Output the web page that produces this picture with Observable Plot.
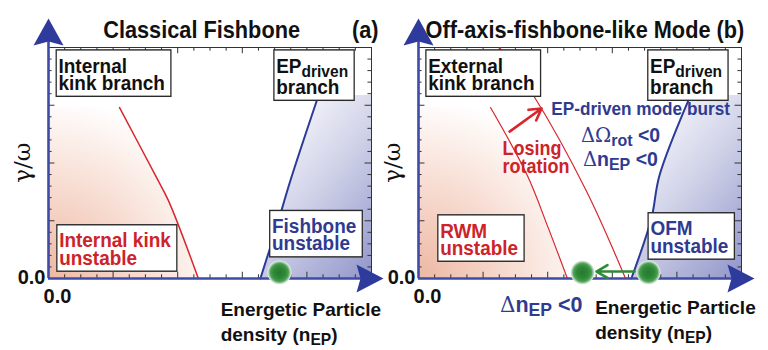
<!DOCTYPE html>
<html>
<head>
<meta charset="utf-8">
<script src="https://cdn.jsdelivr.net/npm/d3@7"></script>
<script src="https://cdn.jsdelivr.net/npm/@observablehq/plot@0.6"></script>
<style>
  html, body { margin: 0; padding: 0; background: #fff; }
  #chart { display: flex; width: 768px; height: 350px; overflow: hidden; }
  #chart svg { display: block; overflow: visible; }
</style>
</head>
<body>
<div id="chart"></div>
<script>
// ---------------- data ----------------
// n = energetic-particle density, g = growth rate γ/ω, both in schematic units 0–10
const internalKinkBranch = [{n: 2.20, g: 7.40}, {n: 3.31, g: 4.46}, {n: 3.71, g: 3.38}, {n: 4.64, g: 0}];
const fishboneBranch     = [{n: 8.36, g: 7.92}, {n: 7.49, g: 4.24}, {n: 7.03, g: 2.08}, {n: 6.56, g: 0}];
const rwmBranch          = [{n: 2.23, g: 7.40}, {n: 3.37, g: 4.46}, {n: 3.99, g: 2.29}, {n: 4.61, g: 0}];
const rotatingKinkBranch = [{n: 2.51, g: 10.0}, {n: 3.56, g: 7.92}, {n: 5.19, g: 3.81}, {n: 6.41, g: 0}];
const ofmBranch          = [{n: 8.42, g: 7.92}, {n: 7.46, g: 4.46}, {n: 7.21, g: 2.60}, {n: 6.59, g: 0}];
const operatingPointA    = [{n: 7.15, g: 0.26}];
const operatingPointsB   = [{n: 5.08, g: 0.26}, {n: 7.12, g: 0.26}];
const burstArrow         = [{n1: 2.82, g1: 6.36, n2: 3.81, g2: 7.36}];
const shiftArrow         = [{n1: 6.69, g1: 0.30, n2: 5.51, g2: 0.30}];
const tickLabels         = [{v: 0, text: "0.0"}];
const minorTicks         = d3.range(0, 10.001, 0.5);

const titleA   = [{n: 4.74, g: 10.39, text: "Classical Fishbone"}];
const tagA     = [{n: 10.22, g: 10.39, text: "(a)"}];
const titleB   = [{n: 0.22, g: 10.39, text: "Off-axis-fishbone-like Mode (b)"}];
const branchA  = [{n: 0.31, g: 9.44, text: "Internal\nkink branch"}, {n: 7.05, g: 9.44, text: "EP_{driven}\nbranch"}];
const branchB  = [{n: 0.30, g: 9.44, text: "External\nkink branch"}, {n: 7.17, g: 9.44, text: "EP_{driven}\nbranch"}];
const redBoxA  = [{n: 0.33, g: 1.87, text: "Internal kink\nunstable"}];
const blueBoxA = [{n: 6.92, g: 2.49, text: "Fishbone\nunstable"}];
const redBoxB  = [{n: 0.67, g: 2.30, text: "RWM\nunstable"}];
const blueBoxB = [{n: 7.18, g: 2.39, text: "OFM\nunstable"}];
const burstText = [{n: 4.11, g: 7.06, text: "EP-driven mode burst"}];
const deltaText = [{n: 5.03, g: 5.89, text: "ΔΩ_{rot} <0"}, {n: 5.09, g: 4.89, text: "Δn_{EP} <0"}];
const losingText = [{n: 2.60, g: 5.88, text: "Losing\nrotation"}];
const dnText    = [{n: 2.52, g: -1.47, text: "Δn_{EP} <0"}];
const xTitleA   = [{n: 5.33, g: -0.83, text: "Energetic Particle\ndensity (n_{EP})"}];
const xTitleB   = [{n: 5.47, g: -0.74, text: "Energetic Particle\ndensity (n_{EP})"}];
const yTitle    = [{n: -0.77, g: 5.02, text: "γ/ω"}];

// ---------------- styling ----------------
const SANS = "Liberation Sans, Arial, Helvetica, sans-serif";
const SERIF = "DejaVu Serif, Liberation Serif, serif";
const RED = "#d8262c", RED_TXT = "#cd2329", BLUE = "#2d3b98", BLUE_TXT = "#2f3b91";
const AXIS = "#3e4ba8", ARROW = "#2e3b9c", GREEN = "#2f8a37", INK = "#111";
const CONDENSE = 0.925;
const NS = "http://www.w3.org/2000/svg";

function el(name, attrs = {}, children = []) {
  const e = document.createElementNS(NS, name);
  for (const [k, v] of Object.entries(attrs)) e.setAttribute(k, v);
  for (const c of children) e.appendChild(c);
  return e;
}
const stop = (o, c) => el("stop", {offset: o, "stop-color": c});

// gradient definitions placed with the panel's own scales
function gradients(p) {
  return (index, {x, y}) => el("defs", {}, [
    el("radialGradient", {id: p + "red", gradientUnits: "userSpaceOnUse", cx: x(0), cy: y(0), r: x(5.6) - x(0)},
      [stop(0, "#edb8a3"), stop(0.5, "#f7dbd0"), stop(1, "#ffffff")]),
    el("linearGradient", {id: p + "blue", gradientUnits: "userSpaceOnUse", x1: x(8.2), y1: y(8.2), x2: x(12.2), y2: y(3.4)},
      [stop(0, "#f4f4fa"), stop(0.4, "#d0d2e8"), stop(1, "#9094c9")]),
    el("radialGradient", {id: p + "green", cx: 0.5, cy: 0.5, r: 0.5},
      [stop(0, "#247a2d"), stop(0.5, "#2f8a37"), stop(0.75, "#4c9e54"), stop(1, "#f0f7f0")])
  ]);
}

const arrowUp = {draw(ctx, size) {
  const k = Math.sqrt(size / (Math.PI * 100));
  ctx.moveTo(0, -18 * k); ctx.lineTo(15 * k, 9 * k); ctx.lineTo(0, 5 * k); ctx.lineTo(-15 * k, 9 * k); ctx.closePath();
}};
const arrowRight = {draw(ctx, size) {
  const k = Math.sqrt(size / (Math.PI * 100));
  ctx.moveTo(18 * k, 0); ctx.lineTo(-9 * k, -14 * k); ctx.lineTo(-5 * k, 0); ctx.lineTo(-9 * k, 14 * k); ctx.closePath();
}};

// each label group gets a single class: plain, cond (narrowed) or boxed (narrowed + framed)
function label(data, o = {}) {
  return Plot.text(data, {
    x: "n", y: "g", text: "text",
    fontSize: o.size ?? 19, lineHeight: o.lh ?? 0.9, fill: o.color ?? INK,
    textAnchor: o.anchor ?? "start", lineAnchor: o.la ?? "top",
    fontFamily: o.family ?? SANS, fontWeight: o.weight ?? "bold",
    rotate: o.rotate ?? 0, dx: o.dx ?? 0, dy: o.dy ?? 0,
    className: o.kind ?? "plain"
  });
}
const boxLabel = (data, color = INK) => label(data, {kind: "boxed", size: 20.5, lh: 0.834, color});

function frameMarks() {
  return [
    Plot.frame({stroke: "#333", strokeWidth: 1}),
    Plot.ruleX(minorTicks, {x: d => d, y1: 0, y2: d => d % 2 === 0 ? 0.27 : 0.16, stroke: "#333", strokeWidth: 1}),
    Plot.ruleX(minorTicks, {x: d => d, y1: 10, y2: d => d % 2 === 0 ? 9.73 : 9.84, stroke: "#333", strokeWidth: 1}),
    Plot.ruleY(minorTicks, {y: d => d, x1: 0, x2: d => d % 2.5 === 0 ? 0.2 : 0.11, stroke: "#333", strokeWidth: 1}),
    Plot.ruleY(minorTicks, {y: d => d, x1: 10, x2: d => d % 2.5 === 0 ? 9.8 : 9.89, stroke: "#333", strokeWidth: 1})
  ];
}

function axisMarks(xArrowDx) {
  const ticks = tickLabels.map(d => ({n: d.v, g: d.v, text: d.text}));
  return [
    Plot.ruleX([0], {stroke: AXIS, strokeWidth: 2.6, insetTop: -6}),
    Plot.ruleY([0], {stroke: AXIS, strokeWidth: 2.6}),
    Plot.dot([0], {frameAnchor: "top-left", dy: -11, r: 10, symbol: arrowUp, fill: ARROW, stroke: "none"}),
    Plot.dot([0], {frameAnchor: "bottom-right", dx: xArrowDx, r: 10, symbol: arrowRight, fill: ARROW, stroke: "none"}),
    label(ticks, {size: 20, anchor: "end", la: "middle", dx: -3}),
    label(ticks, {size: 20, anchor: "middle", la: "bottom", dx: 9, dy: 24}),
    label(yTitle, {size: 23, family: SERIF, weight: "normal", anchor: "middle", la: "middle", rotate: -90})
  ];
}

function plotPanel(id, marginLeft, marginRight, marks) {
  return Plot.plot({
    width: 384, height: 350,
    marginLeft, marginRight, marginTop: 47, marginBottom: 72,
    x: {domain: [0, 10], axis: null},
    y: {domain: [0, 10], axis: null},
    style: {fontFamily: SANS, background: "transparent", overflow: "visible"},
    marks: [gradients(id), ...marks]
  });
}

const panelA = plotPanel("A", 48, 13, [
  Plot.areaX(internalKinkBranch, {y: "g", x1: 0, x2: "n", fill: "url(#Ared)", curve: "catmull-rom"}),
  Plot.areaX(fishboneBranch, {y: "g", x1: "n", x2: 10, fill: "url(#Ablue)", curve: "catmull-rom"}),
  ...frameMarks(),
  Plot.line(internalKinkBranch, {x: "n", y: "g", stroke: RED, strokeWidth: 1.5, curve: "catmull-rom"}),
  Plot.line(fishboneBranch, {x: "n", y: "g", stroke: BLUE, strokeWidth: 2, curve: "catmull-rom"}),
  ...axisMarks(-6),
  Plot.dot(operatingPointA, {x: "n", y: "g", r: 12, fill: "url(#Agreen)", stroke: "none"}),
  label(titleA, {kind: "cond", size: 23.5, anchor: "middle", la: "bottom"}),
  label(tagA, {kind: "cond", size: 23.5, anchor: "end", la: "bottom"}),
  boxLabel(branchA),
  boxLabel(redBoxA, RED_TXT),
  boxLabel(blueBoxA, BLUE_TXT),
  label(xTitleA, {lh: 1.33})
]);

const panelB = plotPanel("B", 34, 27, [
  Plot.areaX(rwmBranch, {y: "g", x1: 0, x2: "n", fill: "url(#Bred)", curve: "catmull-rom"}),
  Plot.areaX(ofmBranch, {y: "g", x1: "n", x2: 10, fill: "url(#Bblue)", curve: "catmull-rom"}),
  ...frameMarks(),
  Plot.line(rwmBranch, {x: "n", y: "g", stroke: RED, strokeWidth: 1.2, curve: "catmull-rom"}),
  Plot.line(rotatingKinkBranch, {x: "n", y: "g", stroke: RED, strokeWidth: 1.2, curve: "catmull-rom"}),
  Plot.line(ofmBranch, {x: "n", y: "g", stroke: BLUE, strokeWidth: 2, curve: "catmull-rom"}),
  Plot.arrow(burstArrow, {x1: "n1", y1: "g1", x2: "n2", y2: "g2", stroke: RED, strokeWidth: 2.6, headLength: 9}),
  ...axisMarks(-5),
  Plot.dot(operatingPointsB, {x: "n", y: "g", r: 12, fill: "url(#Bgreen)", stroke: "none"}),
  Plot.arrow(shiftArrow, {x1: "n1", y1: "g1", x2: "n2", y2: "g2", stroke: GREEN, strokeWidth: 2.6, headLength: 8}),
  label(titleB, {kind: "cond", size: 23.5, anchor: "start", la: "bottom"}),
  boxLabel(branchB),
  boxLabel(redBoxB, RED_TXT),
  boxLabel(blueBoxB, BLUE_TXT),
  label(burstText, {kind: "cond", size: 18.6, color: BLUE_TXT, la: "bottom"}),
  label(deltaText, {size: 19.5, color: BLUE_TXT, la: "bottom"}),
  label(losingText, {kind: "cond", size: 19.5, lh: 0.923, color: RED_TXT}),
  label(dnText, {size: 21.5, color: BLUE_TXT, la: "bottom"}),
  label(xTitleB, {lh: 1.33})
]);

const host = document.getElementById("chart");
host.appendChild(panelA);
host.appendChild(panelB);

// subscripts "_{...}" and Greek capitals in a serif face
function richify(svg) {
  svg.querySelectorAll("text").forEach(t => {
    const targets = t.querySelector("tspan") ? Array.from(t.querySelectorAll("tspan")) : [t];
    targets.forEach(node => {
      const s = node.textContent;
      if (!/_\{|[ΔΩ]/.test(s)) return;
      node.textContent = "";
      const re = /_\{([^}]*)\}|([ΔΩ])|([^_ΔΩ]+)/g;
      let m, shift = 0;
      while ((m = re.exec(s))) {
        const sp = el("tspan");
        if (m[1] !== undefined) {
          sp.setAttribute("font-size", "0.82em");
          sp.setAttribute("dy", 4 - shift); shift = 4;
          sp.textContent = m[1];
        } else {
          if (shift) { sp.setAttribute("dy", -shift); shift = 0; }
          if (m[2] !== undefined) {
            sp.setAttribute("font-family", SERIF);
            sp.setAttribute("font-weight", "normal");
            sp.textContent = m[2];
          } else sp.textContent = m[3];
        }
        node.appendChild(sp);
      }
    });
  });
}

// the reference lettering is slightly narrower than Liberation Sans Bold
function condense(svg) {
  svg.querySelectorAll(".cond text, .boxed text, text.cond, text.boxed").forEach(t => {
    const tr = t.getAttribute("transform");
    if (tr) t.setAttribute("transform", `${tr} scale(${CONDENSE},1)`);
  });
}

function addBoxes(svg) {
  svg.querySelectorAll(".boxed text, text.boxed").forEach(t => {
    const b = t.getBBox();
    const r = el("rect", {
      x: b.x - 2.5, y: b.y - 4, width: b.width + 9, height: b.height + 6.5,
      fill: "#fff", stroke: "#2a2a2a", "stroke-width": 1.4
    });
    const tr = t.getAttribute("transform");
    if (tr) r.setAttribute("transform", tr);
    t.parentNode.insertBefore(r, t);
  });
}

for (const svg of [panelA, panelB]) { richify(svg); condense(svg); addBoxes(svg); }
</script>
</body>
</html>
